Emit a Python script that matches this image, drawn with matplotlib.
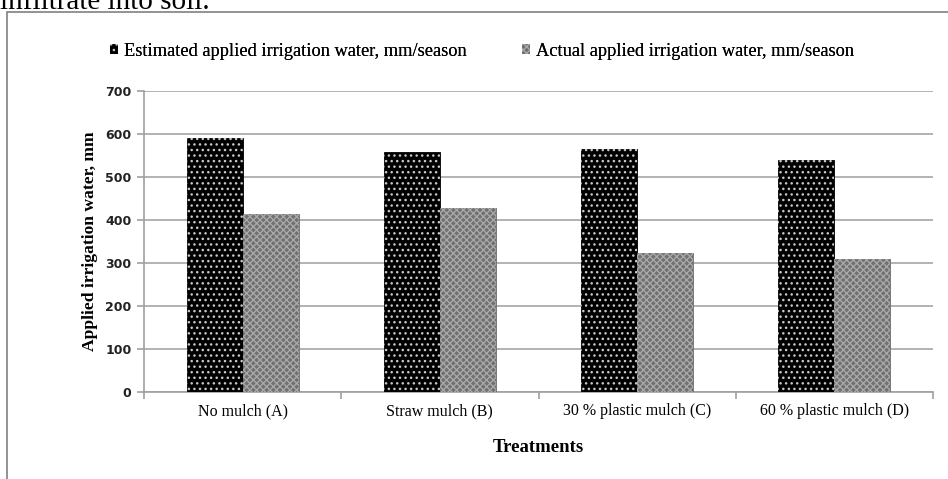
import numpy as np
import matplotlib
matplotlib.use("Agg")
import matplotlib.pyplot as plt
from matplotlib.patches import Patch, Rectangle

treatments = ["No mulch (A)", "Straw mulch (B)", "30 % plastic mulch (C)", "60 % plastic mulch (D)"]
estimated = [590, 558, 565, 540]
actual = [414, 428, 323, 310]
yticks = [0, 100, 200, 300, 400, 500, 600, 700]
series_names = ["Estimated applied irrigation water, mm/season", "Actual applied irrigation water, mm/season"]

serif = "Liberation Serif"
plt.rcParams["hatch.linewidth"] = 1.0

fig = plt.figure(figsize=(9.48, 4.79), dpi=100)
W, H = 948, 479
ax = fig.add_axes([144 / W, 1 - 392 / H, (933 - 144) / W, (392 - 91) / H])

# outer chart frame
fig.patches.append(Rectangle((7 / W, -0.1), 1.2, 1 - 12.5 / H + 0.1, transform=fig.transFigure,
                             fill=False, edgecolor="#808080", linewidth=1.2))
# cut-off line of text above the chart
fig.text(0.0, 1 - 9 / H, "infiltrate into soil.", family=serif, fontsize=21, ha="left", va="baseline")

est_face, est_hatch = "black", "#c8c8c8"
act_face, act_hatch = "#707070", "#a8a8a8"

x = np.arange(len(treatments)) + 0.5
bw = 0.284
ax.bar(x - bw / 2, estimated, bw, color=est_face, edgecolor=est_face, linewidth=0.6, zorder=3)
ax.bar(x - bw / 2, estimated, bw, facecolor="none", edgecolor=est_hatch, hatch="...", linewidth=0, zorder=4)
ax.bar(x + bw / 2, actual, bw, color=act_face, edgecolor=act_face, linewidth=0.6, zorder=3)
ax.bar(x + bw / 2, actual, bw, facecolor="none", edgecolor=act_hatch, hatch="xxxxx", linewidth=0, zorder=4)

ax.set_xlim(0, len(treatments))
ax.set_ylim(0, 700)
ax.set_yticks(yticks)
ax.set_yticklabels([str(v) for v in yticks], fontsize=9, color="#222222", fontweight="bold", family="DejaVu Sans")
ax.set_xticks(x)
ax.set_xticklabels(treatments, family=serif, fontsize=11.5)
ax.set_xticks(np.arange(len(treatments) + 1), minor=True)
ax.tick_params(axis="x", which="major", length=0, pad=8)
ax.tick_params(axis="x", which="minor", length=5, color="#a0a0a0", width=1.2)
ax.tick_params(axis="y", length=5, color="#a0a0a0", width=1.2, pad=4)

ax.grid(axis="y", color="#a6a6a6", linewidth=1.2, zorder=0)
for s in ["top", "right"]:
    ax.spines[s].set_visible(False)
for s in ["left", "bottom"]:
    ax.spines[s].set_color("#a0a0a0")
    ax.spines[s].set_linewidth(1.2)

ax.set_ylabel("Applied irrigation water, mm", family=serif, fontsize=12.6, fontweight="bold", labelpad=5)
ax.set_xlabel("Treatments", family=serif, fontsize=13.5, fontweight="bold", labelpad=14)

handles = [Patch(facecolor=est_face, edgecolor=est_hatch, hatch="...", linewidth=0),
           Patch(facecolor=act_face, edgecolor=act_hatch, hatch="xxxxx", linewidth=0)]
legend_x = [110, 522]
for h, name, lx in zip(handles, series_names, legend_x):
    leg = fig.legend([h], [name], loc="center left", bbox_to_anchor=(lx / W, 1 - 51 / H), frameon=False,
                     prop={"family": serif, "size": 13.2}, handlelength=0.45, handleheight=0.45,
                     handletextpad=0.3, borderpad=0, borderaxespad=0)
    fig.add_artist(leg)

fig.savefig("out.png", dpi=100)
